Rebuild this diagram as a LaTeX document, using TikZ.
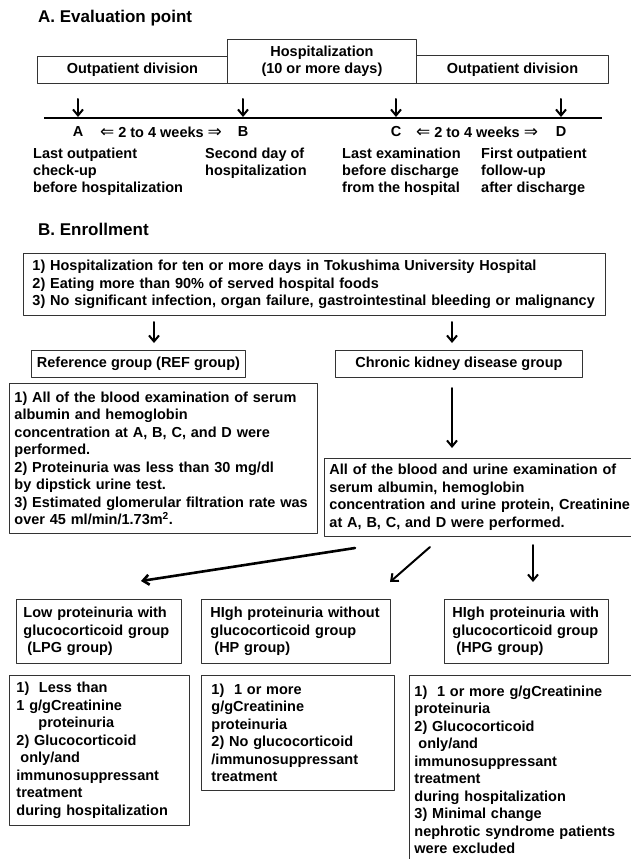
\documentclass[tikz,border=0pt]{standalone}
\usepackage{fontspec}
\setmainfont{Liberation Sans}
\newfontfamily\arrowfont{DejaVu Sans}
\usetikzlibrary{arrows.meta}
\tikzset{
	box/.style={draw=black!80, line width=0.9pt, inner sep=0pt},
	txt/.style={font=\bfseries\fontsize{14.5}{17.5}\selectfont},
	head/.style={font=\bfseries\fontsize{17}{20}\selectfont, inner sep=0pt},
	panel/.style={box, txt, anchor=north west, align=left},
	arr/.style={->, line width=2pt},
}
\newcommand{\dblarrow}[1]{{\arrowfont\mdseries\fontsize{17}{17}\selectfont #1}}
\newcommand{\weeks}{\dblarrow{⇐} 2 to 4 weeks \dblarrow{⇒}}
\begin{document}
\begin{tikzpicture}[x=1pt, y=-1pt, line join=round, line cap=round, >={Straight Barb[length=6pt,width=10pt]}]
			\useasboundingbox (0,0) rectangle (631,859);
			\clip (0,0) rectangle (631,859);
			% A. evaluation point
			\node[head, anchor=base west] (ttlA) at (38,23) {A. Evaluation point};
			\node[box, txt, anchor=north west, minimum width=190, minimum height=27] (outL) at (37,56) {Outpatient division};
			\node[box, txt, anchor=north west, minimum width=189, minimum height=44, align=center] (hosp) at (227,39) {Hospitalization\\(10 or more days)};
			\node[box, txt, anchor=north west, minimum width=192, minimum height=28] (outR) at (416,55) {Outpatient division};
			\coordinate (tl0) at (44,118);
			\coordinate (tl1) at (602,118);
			\draw[line width=2.6pt, line cap=butt] (tl0) -- (tl1);
			\foreach \x/\p in {78/A,243/B,396/C,561/D}{
				\coordinate (top\p) at (\x,99);
				\coordinate (tick\p) at (\x,117);
				\draw[arr] (top\p) -- (tick\p);
				\node[txt, inner sep=0pt] (pt\p) at (\x,132) {\p};
			}
			\node[txt, inner sep=0pt] (wkAB) at (161,132) {\weeks};
			\node[txt, inner sep=0pt] (wkCD) at (477,132) {\weeks};
			\node[txt, inner sep=0pt, anchor=north west, align=left, font=\bfseries\fontsize{14.5}{17}\selectfont] (dA) at (33,147.5) {Last outpatient\\check-up\\before hospitalization};
			\node[txt, inner sep=0pt, anchor=north west, align=left, font=\bfseries\fontsize{14.5}{17}\selectfont] (dB) at (205,147.5) {Second day of\\hospitalization};
			\node[txt, inner sep=0pt, anchor=north west, align=left, font=\bfseries\fontsize{14.5}{17}\selectfont] (dC) at (342,147.5) {Last examination\\before discharge\\from the hospital};
			\node[txt, inner sep=0pt, anchor=north west, align=left, font=\bfseries\fontsize{14.5}{17}\selectfont] (dD) at (481,147.5) {First outpatient\\follow-up\\after discharge};
			% B. enrollment
			\node[head, anchor=base west] (ttlB) at (38,235) {B. Enrollment};
			\node[panel, text width=564, inner xsep=9, minimum height=62] (crit) at (23,253) {1) Hospitalization for ten or more days in Tokushima University Hospital\\2) Eating more than 90\% of served hospital foods\\3) No significant infection, organ failure, gastrointestinal bleeding or malignancy};
			\coordinate (r0) at (154,322);
			\coordinate (r1) at (154,343);
			\coordinate (k0) at (452,322);
			\coordinate (k1) at (452,343);
			\draw[arr] (r0) -- (r1);
			\draw[arr] (k0) -- (k1);
			\node[box, txt, anchor=north west, minimum width=214, minimum height=27] (ref) at (31,350) {Reference group (REF group)};
			\node[box, txt, anchor=north west, minimum width=247, minimum height=27] (ckd) at (335,350) {Chronic kidney disease group};
			\node[panel, text width=298, inner xsep=5, minimum height=150] (refd) at (9,383) {1) All of the blood examination of serum\\albumin and hemoglobin\\concentration at A, B, C, and D were\\performed.\\2) Proteinuria was less than 30 mg/dl\\by dipstick urine test.\\3) Estimated glomerular filtration rate was\\over 45 ml/min/1.73m\textsuperscript{2}.};
			\coordinate (c0) at (452,388);
			\coordinate (c1) at (452,448);
			\draw[arr] (c0) -- (c1);
			\node[panel, text width=304, inner xsep=5, minimum height=78] (ckdd) at (324,458) {All of the blood and urine examination of\\serum albumin, hemoglobin\\concentration and urine protein, Creatinine\\at A, B, C, and D were performed.};
			% split into three groups
			\coordinate (l0) at (355,548);
			\coordinate (l1) at (141,581);
			\coordinate (h0) at (430,547);
			\coordinate (h1) at (390,582);
			\coordinate (g0) at (533,545);
			\coordinate (g1) at (533,582);
			\draw[arr, line width=2.6pt] (l0) -- (l1);
			\draw[arr] (h0) -- (h1);
			\draw[arr] (g0) -- (g1);
			\node[panel, text width=151, inner xsep=7, minimum height=64] (lpg) at (16,599) {Low proteinuria with\\glucocorticoid group\\\hspace*{4pt}(LPG group)};
			\node[panel, text width=171, inner xsep=9, minimum height=64] (hp) at (201,599) {HIgh proteinuria without\\glucocorticoid group\\\hspace*{4pt}(HP group)};
			\node[panel, text width=148, inner xsep=8, minimum height=64] (hpg) at (444,599) {HIgh proteinuria with\\glucocorticoid group\\\hspace*{4pt}(HPG group)};
			\node[panel, text width=166, inner xsep=7, minimum height=150] (lpgd) at (9,675) {1)\ \ Less than\\1 g/gCreatinine\\\hspace*{22pt}proteinuria\\2) Glucocorticoid\\\hspace*{4pt}only/and\\immunosuppressant\\treatment\\during hospitalization};
			\node[panel, text width=173, inner xsep=10, minimum height=115] (hpd) at (201,675) {1)\ \ 1 or more\\g/gCreatinine\\proteinuria\\2) No glucocorticoid\\/immunosuppressant\\treatment};
			\node[panel, text width=221, inner xsep=5, minimum height=189] (hpgd) at (409,675) {1)\ \ 1 or more g/gCreatinine\\proteinuria\\2) Glucocorticoid\\\hspace*{4pt}only/and\\immunosuppressant\\treatment\\during hospitalization\\3) Minimal change\\nephrotic syndrome patients\\were excluded};
		\end{tikzpicture}
\end{document}
